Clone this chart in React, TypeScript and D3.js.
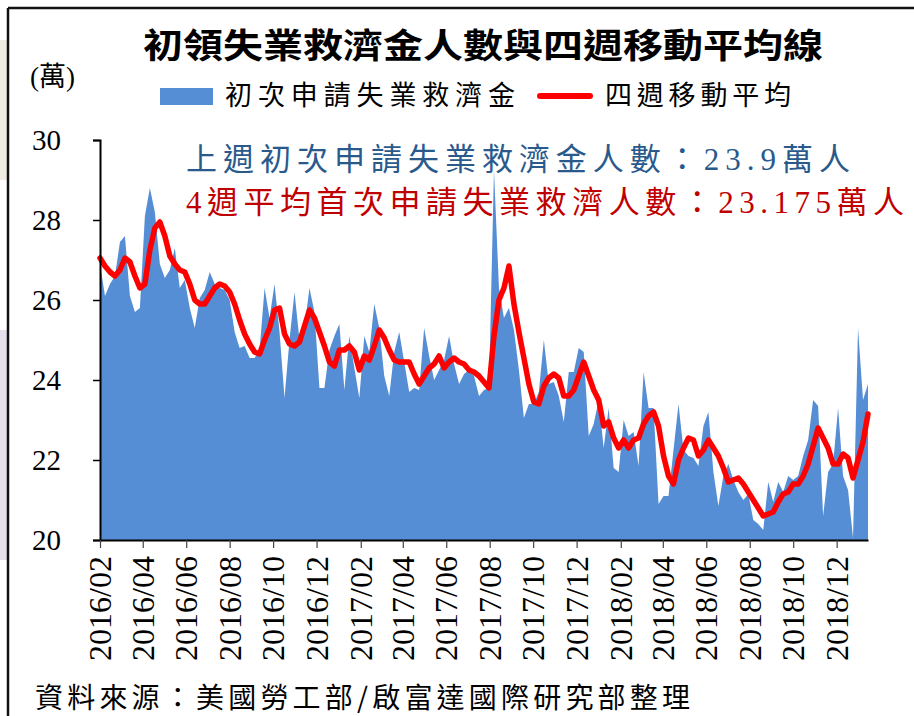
import React, { useEffect, useRef } from 'react';
import * as d3 from 'd3';

// weekly initial jobless claims (萬人)
const claims = [
  26.9, 26.1, 26.4, 26.6, 27.45, 27.6, 26.1, 25.7, 25.8, 28.1,
  28.8, 28.2, 26.9, 26.55, 26.75, 27.3, 26.3, 26.5, 25.8, 25.3,
  26.05, 26.25, 26.7, 26.4, 26.3, 26.25, 26.0, 25.2, 24.8, 24.85,
  24.55, 24.55, 24.75, 26.3, 25.55, 26.4, 25.2, 23.55, 25.0, 26.2,
  25.0, 25.3, 26.3, 25.7, 23.8, 23.8, 24.75, 25.1, 25.4, 23.75,
  25.1, 24.3, 23.55, 25.1, 24.7, 25.9, 25.3, 24.1, 23.6, 24.7,
  25.2, 24.45, 23.7, 23.8, 23.75, 25.3, 24.6, 24.0, 24.25, 24.5,
  25.1, 24.4, 23.9, 24.15, 24.25, 24.1, 23.6, 23.75, 23.8, 29.25,
  26.3, 25.55, 25.8, 25.25, 24.25, 23.05, 23.4, 23.4, 23.7, 25.0,
  23.9, 23.95, 23.6, 22.95, 24.2, 24.2, 24.8, 24.7, 22.6, 22.9,
  23.5, 22.3, 23.3, 21.8, 21.7, 23.0, 22.6, 22.7, 21.85, 24.2,
  23.3, 23.3, 20.9, 21.1, 21.1, 22.25, 23.4, 22.25, 22.1, 22.05,
  21.85, 22.85, 23.2, 21.7, 20.85, 21.6, 21.9, 21.5, 21.2, 21.0,
  21.15, 20.5, 20.4, 20.25, 21.45, 20.95, 21.45, 21.2, 21.6, 21.5,
  21.6, 22.1, 22.5, 23.5, 23.35, 20.6, 21.7, 21.9, 23.3, 21.6,
  21.25, 20.05, 25.3, 23.5, 23.9,
];

// four-week moving average (萬人)
const avg4 = [
  27.05, 26.85, 26.7, 26.6, 26.75, 27.05, 26.95, 26.6, 26.3, 26.4,
  27.25, 27.8, 27.95, 27.6, 27.1, 26.9, 26.75, 26.7, 26.4, 26.0,
  25.9, 25.9, 26.1, 26.3, 26.4, 26.35, 26.2, 25.9, 25.5, 25.15,
  24.9, 24.7, 24.65, 25.0, 25.3, 25.75, 25.8, 25.15, 24.9, 24.85,
  24.95, 25.35, 25.75, 25.55, 25.2, 24.85, 24.45, 24.35, 24.75, 24.75,
  24.85, 24.7, 24.25, 24.6, 24.5, 24.85, 25.25, 25.05, 24.75, 24.5,
  24.45, 24.45, 24.45, 24.15, 23.9, 24.1, 24.3, 24.4, 24.6, 24.3,
  24.45, 24.55, 24.45, 24.4, 24.25, 24.2, 24.1, 23.95, 23.8, 25.1,
  26.0, 26.3, 26.85, 25.9, 25.2, 24.55, 23.9, 23.45, 23.4, 23.85,
  24.05, 24.15, 24.05, 23.6, 23.6, 23.75, 24.1, 24.45, 24.1, 23.75,
  23.5, 22.85, 22.95, 22.55, 22.3, 22.5, 22.3, 22.5, 22.55, 22.9,
  23.1, 23.2, 22.85, 22.1, 21.6, 21.4, 22.0, 22.3, 22.55, 22.5,
  22.1, 22.25, 22.5, 22.3, 22.1, 21.8, 21.45, 21.5, 21.55, 21.4,
  21.2, 21.0, 20.8, 20.6, 20.65, 20.7, 20.95, 21.15, 21.2, 21.4,
  21.4, 21.6, 21.9, 22.35, 22.8, 22.55, 22.3, 21.9, 21.9, 22.15,
  22.05, 21.55, 22.0, 22.45, 23.15,
];

const startWeek = '2016/02/01';
const yTicks = [20, 22, 24, 26, 28, 30];
const xTickLabels = [
  '2016/02', '2016/04', '2016/06', '2016/08', '2016/10', '2016/12',
  '2017/02', '2017/04', '2017/06', '2017/08', '2017/10', '2017/12',
  '2018/02', '2018/04', '2018/06', '2018/08', '2018/10', '2018/12',
];

const serif = "'Liberation Serif', 'Noto Sans CJK TC', serif";
const cjk = "'Noto Sans CJK TC', sans-serif";

const App = () => {
  const svgRef = useRef<SVGSVGElement>(null);

  useEffect(() => {
    document.body.style.margin = '0';
    const svg = d3.select(svgRef.current);
    svg.selectAll('*').remove();

    const W = 914, H = 716;
    const left = 100, right = 868, top = 140, bottom = 540;

    // page / slide frame
    svg.append('rect').attr('width', W).attr('height', H).attr('fill', '#fff');
    svg.append('rect').attr('x', 0).attr('y', 40).attr('width', 8).attr('height', 140).attr('fill', '#f1ece1');
    svg.append('rect').attr('x', 0).attr('y', 330).attr('width', 8).attr('height', 230).attr('fill', '#e7e0ec');
    svg.append('line').attr('x1', 8).attr('x2', W).attr('y1', 8).attr('y2', 8).attr('stroke', '#111').attr('stroke-width', 2.5);
    svg.append('line').attr('x1', 8).attr('x2', 8).attr('y1', 8).attr('y2', H).attr('stroke', '#111').attr('stroke-width', 2.5);

    const parseWeek = d3.timeParse('%Y/%m/%d');
    const start = parseWeek(startWeek) as Date;
    const dates = claims.map((_, i) => d3.timeDay.offset(start, 7 * i));

    const x = d3.scaleTime()
      .domain([dates[0], dates[dates.length - 1]])
      .range([left, right]);

    const y = d3.scaleLinear().domain([20, 30]).range([bottom, top]);

    // area
    const area = d3.area<number>()
      .x((_, i) => x(dates[i]))
      .y0(y(20))
      .y1(d => y(d));

    svg.append('path')
      .datum(claims)
      .attr('fill', '#558ed5')
      .attr('d', area);

    // moving average line
    const line = d3.line<number>()
      .x((_, i) => x(dates[i]))
      .y(d => y(d));

    svg.append('path')
      .datum(avg4)
      .attr('fill', 'none')
      .attr('stroke', '#ff0000')
      .attr('stroke-width', 5.5)
      .attr('stroke-linejoin', 'round')
      .attr('stroke-linecap', 'round')
      .attr('d', line);

    // y axis
    const yAxis = svg.append('g')
      .attr('transform', `translate(${left},0)`)
      .call(d3.axisLeft(y).tickValues(yTicks).tickSize(7).tickPadding(32).tickFormat(d3.format('d')));
    yAxis.select('.domain').attr('stroke', '#000').attr('stroke-width', 2);
    yAxis.selectAll('.tick line').attr('stroke', '#000').attr('stroke-width', 1.5);
    yAxis.selectAll('.tick text')
      .attr('font-family', serif)
      .attr('font-size', 29)
      .attr('fill', '#000');

    // x axis
    const parseMonth = d3.timeParse('%Y/%m');
    const xTicks = xTickLabels.map(l => parseMonth(l) as Date);
    const xAxis = svg.append('g')
      .attr('transform', `translate(0,${bottom})`)
      .call(d3.axisBottom(x).tickValues(xTicks).tickSize(8).tickSizeOuter(0).tickFormat(d3.timeFormat('%Y/%m') as any));
    xAxis.select('.domain').attr('stroke', '#000').attr('stroke-width', 2);
    xAxis.selectAll('.tick line').attr('stroke', '#444').attr('stroke-width', 1.2);
    xAxis.selectAll('.tick text')
      .attr('font-family', serif)
      .attr('font-size', 32)
      .attr('fill', '#000')
      .attr('text-anchor', 'end')
      .attr('dy', '0.33em')
      .attr('transform', 'translate(0,16) rotate(-90)')
      .attr('x', 0)
      .attr('y', 0);

    // title
    svg.append('text')
      .attr('x', 143).attr('y', 58)
      .attr('font-family', cjk)
      .attr('font-weight', 'bold')
      .attr('font-size', 34)
      .attr('textLength', 680)
      .attr('lengthAdjust', 'spacingAndGlyphs')
      .text('初領失業救濟金人數與四週移動平均線');

    // unit
    svg.append('text')
      .attr('x', 30).attr('y', 86)
      .attr('font-family', serif)
      .attr('font-size', 27)
      .text('(萬)');

    // legend
    svg.append('rect').attr('x', 160).attr('y', 88).attr('width', 53).attr('height', 17).attr('fill', '#558ed5');
    svg.append('text')
      .attr('x', 225).attr('y', 105)
      .attr('font-family', cjk).attr('font-size', 27)
      .attr('textLength', 290).attr('lengthAdjust', 'spacing')
      .text('初次申請失業救濟金');
    svg.append('line')
      .attr('x1', 540).attr('x2', 590).attr('y1', 96).attr('y2', 96)
      .attr('stroke', '#ff0000').attr('stroke-width', 6).attr('stroke-linecap', 'round');
    svg.append('text')
      .attr('x', 605).attr('y', 105)
      .attr('font-family', cjk).attr('font-size', 27)
      .attr('textLength', 186).attr('lengthAdjust', 'spacing')
      .text('四週移動平均');

    // annotations
    svg.append('text')
      .attr('x', 186).attr('y', 170)
      .attr('font-family', serif).attr('font-size', 31)
      .attr('fill', '#2a5a8c')
      .attr('textLength', 664).attr('lengthAdjust', 'spacing')
      .text(`上週初次申請失業救濟金人數：${claims[claims.length - 1]}萬人`);
    svg.append('text')
      .attr('x', 186).attr('y', 213)
      .attr('font-family', serif).attr('font-size', 31)
      .attr('fill', '#c00000')
      .attr('textLength', 718).attr('lengthAdjust', 'spacing')
      .text('4週平均首次申請失業救濟人數：23.175萬人');

    // source
    svg.append('text')
      .attr('x', 35).attr('y', 708)
      .attr('font-family', cjk).attr('font-size', 28)
      .attr('textLength', 655).attr('lengthAdjust', 'spacing')
      .text('資料來源：美國勞工部/啟富達國際研究部整理');
  }, []);

  return (
    <svg ref={svgRef} width={914} height={716} style={{ position: 'absolute', left: 0, top: 0 }} />
  );
};

export default App;
